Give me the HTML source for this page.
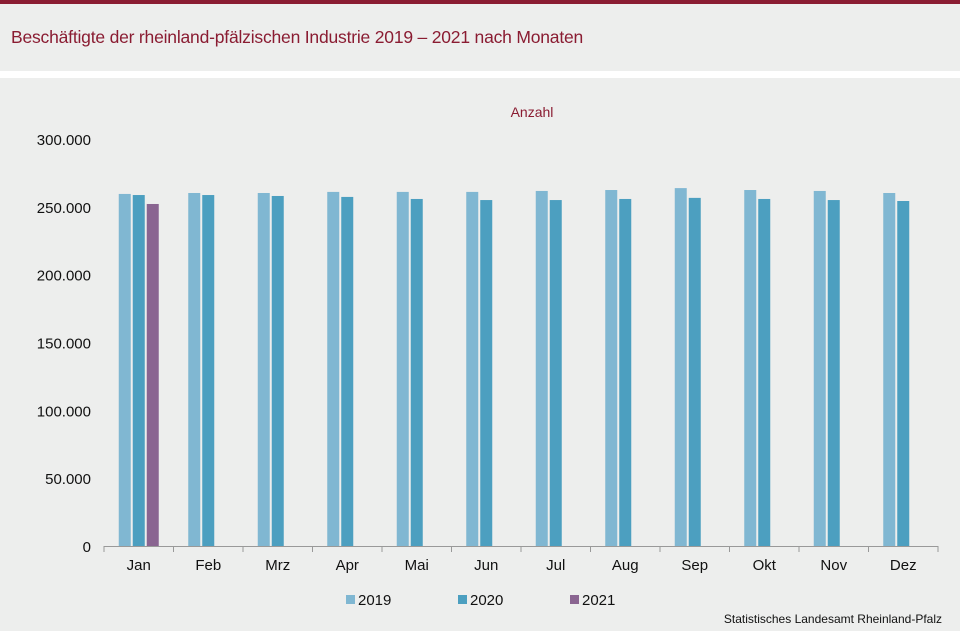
<!DOCTYPE html>
<html><head><meta charset="utf-8"><style>
body{margin:0;width:960px;height:631px;overflow:hidden;background:#edeeed;font-family:"Liberation Sans",sans-serif;position:relative}
#topbar{position:absolute;left:0;top:0;width:960px;height:4px;background:#8a1c32}
#title{position:absolute;left:11px;top:27px;font-size:17.5px;color:#8a1c32;letter-spacing:-0.2px}
#sep{position:absolute;left:0;top:71px;width:960px;height:7px;background:#fff}
svg{position:absolute;left:0;top:0}
</style></head><body>
<div id="topbar"></div>
<div id="title">Beschäftigte der rheinland-pfälzischen Industrie 2019 – 2021 nach Monaten</div>
<div id="sep"></div>
<svg id="chart" width="960" height="631"></svg>
<script>
const categories=["Jan","Feb","Mrz","Apr","Mai","Jun","Jul","Aug","Sep","Okt","Nov","Dez"];
const s2019=[259500,260200,260200,261000,261000,261000,261700,262400,263800,262400,261700,260200];
const s2020=[258700,258700,258000,257300,255800,255000,255000,255800,256600,255800,255000,254300];
const s2021=[252100,null,null,null,null,null,null,null,null,null,null,null];
const yTicks=[0,50000,100000,150000,200000,250000,300000];
const yTickLabels=["0","50.000","100.000","150.000","200.000","250.000","300.000"];
const seriesNames=["2019","2020","2021"];
const colors=["#80b7d2","#4c9fc0","#8a6591"];
const NS="http://www.w3.org/2000/svg";
const svg=document.getElementById("chart");
const x0=104,x1=938,yBase=546,yTop=139,yMax=300000;
const bandW=(x1-x0)/categories.length;
function y(v){return yBase-(v/yMax)*(yBase-yTop);}
function xc(i){return x0+bandW*(i+0.5);}
function mk(tag,attrs){const e=document.createElementNS(NS,tag);for(const k in attrs)e.setAttribute(k,attrs[k]);svg.appendChild(e);return e;}
let t=mk("text",{x:532,y:117,"text-anchor":"middle","font-size":14,fill:"#8a1c32"});


t.textContent="Anzahl";
yTicks.forEach((v,i)=>{const l=mk("text",{x:91,y:y(v)+6,"text-anchor":"end","font-size":15,fill:"#111"});


l.textContent=yTickLabels[i];});
const series=[s2019,s2020,s2021];
const bw=12,gap=2;
categories.forEach((c,i)=>{
 series.forEach((s,j)=>{
  if(s[i]==null)return;
  const bx=xc(i)-20+j*(bw+gap);
  const r=mk("rect",{x:bx,y:y(s[i]),width:bw,height:yBase-y(s[i]),fill:colors[j]});
  
  
 });
 const l=mk("text",{x:xc(i),y:570,"text-anchor":"middle","font-size":15,fill:"#111"});
 
 
 l.textContent=c;
 const tk=mk("line",{x1:x0+bandW*i,x2:x0+bandW*i,y1:yBase,y2:yBase+6,stroke:"#999"});
 
 
});
const tkl=mk("line",{x1:x1,x2:x1,y1:yBase,y2:yBase+6,stroke:"#999"});


const ax=mk("line",{x1:x0,x2:x1,y1:yBase+0.5,y2:yBase+0.5,stroke:"#999"});


const lx=[346,458,570];
seriesNames.forEach((n,j)=>{
 const r=mk("rect",{x:lx[j],y:595,width:9,height:9,fill:colors[j]});
 
 
 const tt=mk("text",{x:lx[j]+12,y:605,"font-size":15,fill:"#111"});
 
 
 tt.textContent=n;
});
const src=mk("text",{x:942,y:623,"text-anchor":"end","font-size":12,fill:"#111"});


src.textContent="Statistisches Landesamt  Rheinland-Pfalz";
</script>
</body></html>
